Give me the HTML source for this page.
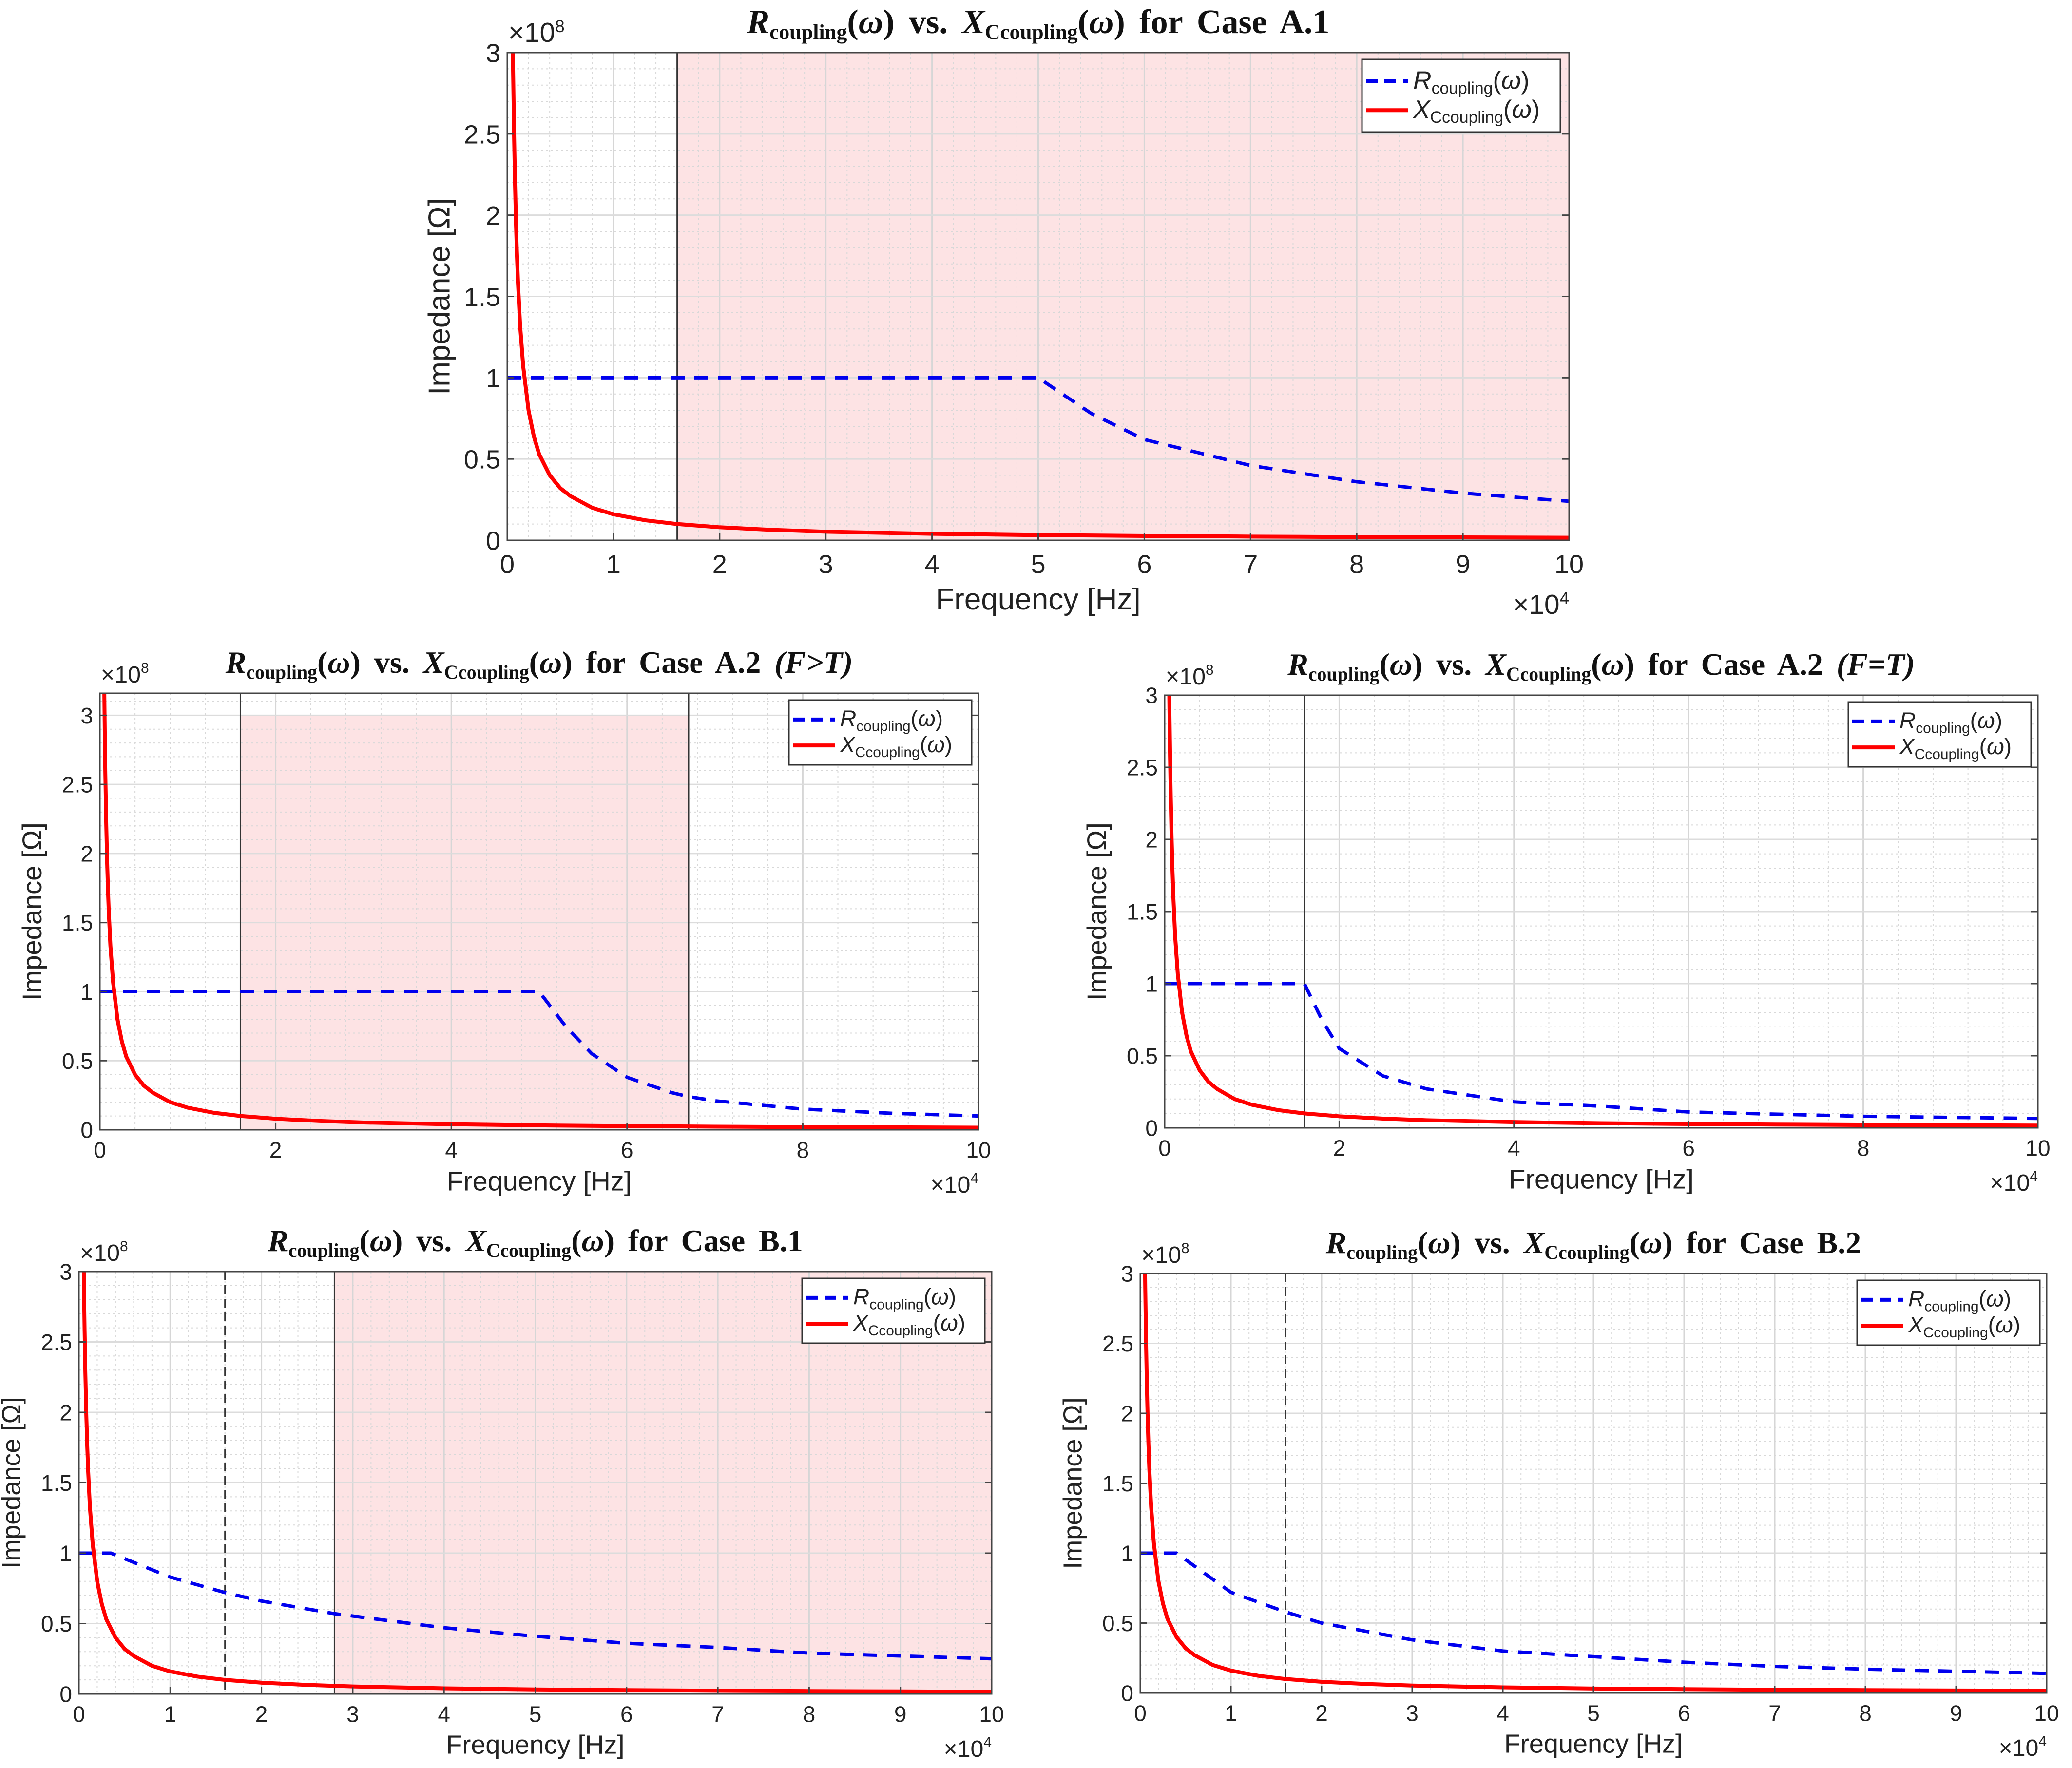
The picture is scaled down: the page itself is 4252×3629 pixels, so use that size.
<!DOCTYPE html>
<html><head><meta charset="utf-8">
<style>
html,body{margin:0;padding:0;background:#fff;}
svg{display:block;}
</style></head>
<body>
<svg id="fig" width="4252" height="3629" viewBox="0 0 4252 3629" xmlns="http://www.w3.org/2000/svg"></svg>
<script>
// Shared reactance series (units of 1e8 ohm vs Hz)
const xFreq = [450,500,550,620,700,800,900,1000,1200,1500,2000,2500,3000,4000,5000,6000,8000,10000,13000,16000,20000,25000,30000,40000,50000,60000,70000,80000,90000,100000];
const xVals = [3.56,3.2,2.9,2.58,2.29,2.0,1.78,1.6,1.33,1.07,0.8,0.64,0.53,0.4,0.32,0.27,0.2,0.16,0.123,0.1,0.08,0.064,0.053,0.04,0.032,0.027,0.023,0.02,0.018,0.016];

// Resistance series per case (freq Hz, value 1e8 ohm)
const rFreqA1 = [0,10000,20000,30000,40000,50000,55000,60000,70000,80000,90000,100000];
const rValsA1 = [1,1,1,1,1,1,0.78,0.62,0.46,0.36,0.29,0.24];
const rFreqA2a = [0,20000,40000,50000,53000,56000,60000,65000,67000,70000,80000,90000,100000];
const rValsA2a = [1,1,1,1,0.75,0.55,0.38,0.27,0.24,0.21,0.15,0.12,0.1];
const rFreqA2b = [0,16000,18000,20000,25000,30000,40000,50000,60000,80000,100000];
const rValsA2b = [1,1,0.75,0.55,0.36,0.27,0.18,0.15,0.11,0.08,0.065];
const rFreqB1 = [0,3500,10000,16000,20000,28000,40000,50000,60000,70000,80000,100000];
const rValsB1 = [1,1,0.83,0.72,0.66,0.57,0.47,0.41,0.36,0.33,0.29,0.25];
const rFreqB2 = [0,4000,10000,16000,20000,30000,40000,50000,60000,70000,80000,100000];
const rValsB2 = [1,1,0.72,0.58,0.5,0.38,0.3,0.26,0.22,0.19,0.17,0.14];

const yTicks = [0,0.5,1,1.5,2,2.5,3];
const yTickLabels = ["0","0.5","1","1.5","2","2.5","3"];
const xTicks10 = [0,1,2,3,4,5,6,7,8,9,10];
const xTicks5 = [0,2,4,6,8,10];

const panels = [
 {id:'a1', L:1041,R:3220,T:108,B:1109,ymax:3, xt:xTicks10, title:'Case A.1', extra:'', ticksz:54, labsz:62,
  rf:rFreqA1, rv:rValsA1, shade:[16000,100000,3], lines:[[16000,'solid']], tickStep:1},
 {id:'a2-ft', L:205,R:2008,T:1423,B:2319,ymax:3.16, xt:xTicks5, title:'Case A.2', extra:'(F>T)', ticksz:46, labsz:56,
  rf:rFreqA2a, rv:rValsA2a, shade:[16000,67000,3], lines:[[16000,'solid'],[67000,'solid']], tickStep:2},
 {id:'a2-fe', L:2390,R:4182,T:1427,B:2315,ymax:3, xt:xTicks5, title:'Case A.2', extra:'(F=T)', ticksz:46, labsz:56,
  rf:rFreqA2b, rv:rValsA2b, shade:null, lines:[[16000,'solid']], tickStep:2},
 {id:'b1', L:162,R:2035,T:2610,B:3477,ymax:3, xt:xTicks10, title:'Case B.1', extra:'', ticksz:46, labsz:54,
  rf:rFreqB1, rv:rValsB1, shade:[28000,100000,3], lines:[[16000,'dash'],[28000,'solid']], tickStep:1},
 {id:'b2', L:2340,R:4200,T:2614,B:3475,ymax:3, xt:xTicks10, title:'Case B.2', extra:'', ticksz:46, labsz:54,
  rf:rFreqB2, rv:rValsB2, shade:null, lines:[[16000,'dash']], tickStep:1},
];

const NS='http://www.w3.org/2000/svg';
const svg=document.getElementById('fig');
function mk(tag,attrs,parent){const e=document.createElementNS(NS,tag);for(const k in attrs)e.setAttribute(k,attrs[k]);(parent||svg).appendChild(e);return e;}

panels.forEach(p=>{
  const g=mk('g',{});
  
  
  const sx=f=>p.L+(f/100000)*(p.R-p.L);
  const sy=v=>p.B-(v/p.ymax)*(p.B-p.T);
  if(p.shade){
    const r=mk('rect',{x:sx(p.shade[0]),y:Math.max(p.T,sy(p.shade[2])),width:sx(p.shade[1])-sx(p.shade[0]),height:p.B-Math.max(p.T,sy(p.shade[2])),fill:'#fde3e4'},g);
    
    
  }
  const minorX=p.tickStep===1?0.2:0.4;
  for(let v=0;v<=10.0001;v+=minorX){
    mk('line',{x1:sx(v*1e4),x2:sx(v*1e4),y1:p.T,y2:p.B,stroke:'#d8d8d8','stroke-width':2,'stroke-dasharray':'4 6'},g);
  }
  for(let v=0;v<=p.ymax+1e-6;v+=0.1){
    mk('line',{x1:p.L,x2:p.R,y1:sy(v),y2:sy(v),stroke:'#d8d8d8','stroke-width':2,'stroke-dasharray':'4 6'},g);
  }
  p.xt.forEach(v=>mk('line',{x1:sx(v*1e4),x2:sx(v*1e4),y1:p.T,y2:p.B,stroke:'#d6d6d6','stroke-width':3},g));
  yTicks.forEach(v=>mk('line',{x1:p.L,x2:p.R,y1:sy(v),y2:sy(v),stroke:'#dcdcdc','stroke-width':3},g));
  p.lines.forEach(([f,st])=>{
    const l=mk('line',{x1:sx(f),x2:sx(f),y1:p.T,y2:p.B,stroke:'#333','stroke-width':3},g);
    if(st==='dash')l.setAttribute('stroke-dasharray','18 10');
    
    
  });
  const cid='clip-'+p.id;
  const cp=mk('clipPath',{id:cid},g);
  mk('rect',{x:p.L,y:p.T,width:p.R-p.L,height:p.B-p.T},cp);
  const rpts=p.rf.map((f,i)=>sx(f)+','+sy(p.rv[i])).join(' ');
  const rl=mk('polyline',{points:rpts,fill:'none',stroke:'#0000ee','stroke-width':7,'stroke-dasharray':'28 20','clip-path':'url(#'+cid+')'},g);
  
  
  const xpts=xFreq.map((f,i)=>sx(f)+','+sy(xVals[i])).join(' ');
  const xl=mk('polyline',{points:xpts,fill:'none',stroke:'#ff0000','stroke-width':8,'stroke-linejoin':'round','clip-path':'url(#'+cid+')'},g);
  
  
  mk('rect',{x:p.L,y:p.T,width:p.R-p.L,height:p.B-p.T,fill:'none',stroke:'#444','stroke-width':3},g);
  const tf='"Liberation Sans",Arial,sans-serif';
  p.xt.forEach(v=>{
    mk('line',{x1:sx(v*1e4),x2:sx(v*1e4),y1:p.B,y2:p.B-14,stroke:'#444','stroke-width':3},g);
    const t=mk('text',{x:sx(v*1e4),y:p.B+p.ticksz*1.25,'font-family':tf,'font-size':p.ticksz,'text-anchor':'middle',fill:'#222'},g);
    t.textContent=String(v);
    
    
  });
  yTicks.forEach((v,i)=>{
    mk('line',{x1:p.L,x2:p.L+14,y1:sy(v),y2:sy(v),stroke:'#444','stroke-width':3},g);
    mk('line',{x1:p.R,x2:p.R-14,y1:sy(v),y2:sy(v),stroke:'#444','stroke-width':3},g);
    const t=mk('text',{x:p.L-14,y:sy(v)+p.ticksz*0.36,'font-family':tf,'font-size':p.ticksz,'text-anchor':'end',fill:'#222'},g);
    t.textContent=yTickLabels[i];
    
    
  });
  const ey=mk('text',{x:p.L+2,y:p.T-22,'font-family':tf,'font-size':p.ticksz*1.05,fill:'#222'},g);
  ey.innerHTML='×10<tspan dy="-20" font-size="'+(p.ticksz*0.65)+'">8</tspan>';
  
  
  const ex=mk('text',{x:p.R,y:p.B+p.ticksz*2.8,'font-family':tf,'font-size':p.ticksz*1.05,'text-anchor':'end',fill:'#222'},g);
  ex.innerHTML='×10<tspan dy="-20" font-size="'+(p.ticksz*0.65)+'">4</tspan>';
  
  
  const xlab=mk('text',{x:(p.L+p.R)/2,y:p.B+p.ticksz*1.25+p.labsz*1.2,'font-family':tf,'font-size':p.labsz,'text-anchor':'middle',fill:'#222'},g);
  xlab.textContent='Frequency [Hz]';
  
  
  const yx=p.L-135, yc=(p.T+p.B)/2;
  const ylab=mk('text',{x:yx,y:yc,'font-family':tf,'font-size':p.labsz,'text-anchor':'middle',fill:'#222',transform:'rotate(-90 '+yx+' '+yc+')','dominant-baseline':'middle'},g);
  ylab.textContent='Impedance [Ω]';
  
  
  const ts=p.id==='a1'?70:64;
  const ti=mk('text',{x:(p.L+p.R)/2,y:p.T-(p.id==='a1'?40:42),'font-family':'"Liberation Serif",serif','font-size':ts,'font-weight':'bold','text-anchor':'middle',fill:'#111','word-spacing':'12'},g);
  const sub=ts*0.62;
  ti.innerHTML='<tspan font-style="italic">R</tspan><tspan font-size="'+sub+'" dy="12">coupling</tspan><tspan dy="-12">(</tspan><tspan font-style="italic">ω</tspan>) vs. <tspan font-style="italic">X</tspan><tspan font-size="'+sub+'" dy="12">Ccoupling</tspan><tspan dy="-12">(</tspan><tspan font-style="italic">ω</tspan>) for Case '+p.title.replace('Case ','')+(p.extra?' <tspan font-style="italic">'+p.extra+'</tspan>':'');
  
  
  const lw=p.id==='a1'?407:375, lh=p.id==='a1'?149:133;
  const lx=p.R-lw-(p.id==='a1'?18:14), ly=p.T+14;
  const lg=mk('g',{},g);
  
  
  mk('rect',{x:lx,y:ly,width:lw,height:lh,fill:'#fff',stroke:'#333','stroke-width':3},lg);
  const fs=p.id==='a1'?52:46, sf=fs*0.65;
  [['R','coupling','#0000ee',true],['X','Ccoupling','#ff0000',false]].forEach((e,i)=>{
    const yy=ly+lh*(i===0?0.3:0.7);
    const ln=mk('line',{x1:lx+8,x2:lx+95,y1:yy,y2:yy,stroke:e[2],'stroke-width':8},lg);
    if(e[3])ln.setAttribute('stroke-dasharray','24 14');
    
    
    const t=mk('text',{x:lx+105,y:yy+fs*0.3,'font-family':tf,'font-size':fs,fill:'#222'},lg);
    t.innerHTML='<tspan font-style="italic">'+e[0]+'</tspan><tspan font-size="'+sf+'" dy="10">'+e[1]+'</tspan><tspan dy="-10">(</tspan><tspan font-style="italic">ω</tspan>)';
    
    
  });
});
</script>
</body></html>
